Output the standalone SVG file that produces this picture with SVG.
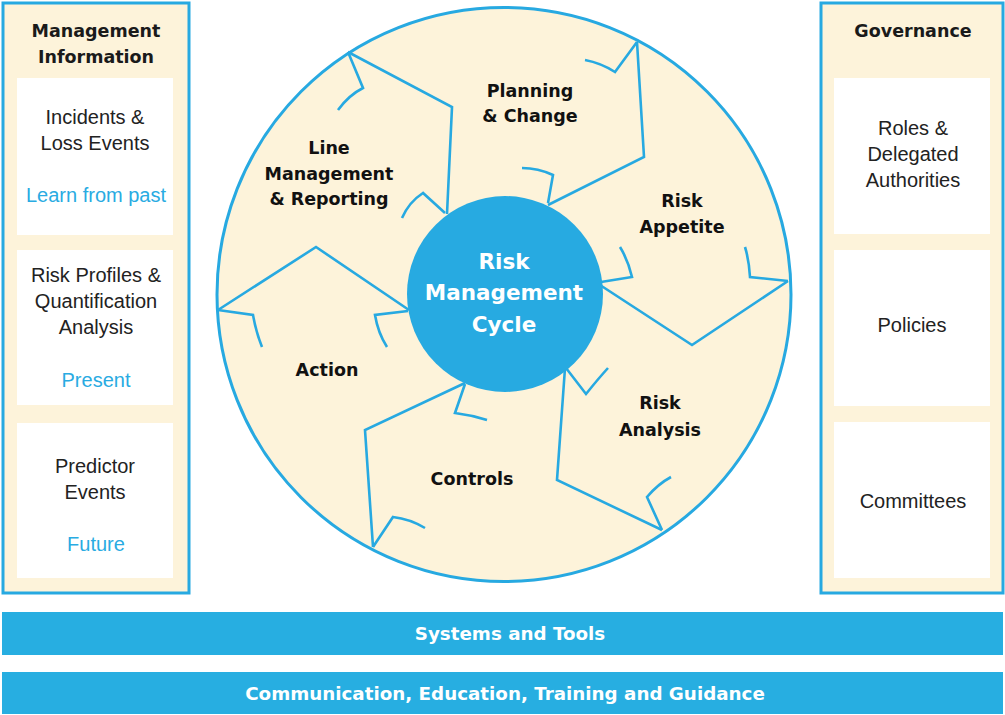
<svg xmlns="http://www.w3.org/2000/svg" width="1005" height="715" viewBox="0 0 1005 715">
<style>
.panel{fill:#fdf3da;stroke:#27a9e1;stroke-width:3}
.box{fill:#ffffff}
.hd{font-family:"DejaVu Sans",sans-serif;font-weight:bold;font-size:17.5px;fill:#1a1a1a;text-anchor:middle}
.tx{font-family:"Liberation Sans",Arial,sans-serif;font-size:20px;fill:#222;text-anchor:middle}
.bl{font-family:"Liberation Sans",Arial,sans-serif;font-size:20px;fill:#29abe2;text-anchor:middle}
.seg{font-family:"DejaVu Sans",sans-serif;font-weight:bold;font-size:17.5px;fill:#111;text-anchor:middle}
.ctr{font-family:"DejaVu Sans",sans-serif;font-weight:bold;font-size:21.5px;fill:#ffffff;text-anchor:middle}
.bar{fill:#27aee1}
.bt{font-family:"DejaVu Sans",sans-serif;font-weight:bold;font-size:18.3px;fill:#ffffff;text-anchor:middle}
.ln{fill:none;stroke:#27a9e1;stroke-width:2.6;stroke-linejoin:miter;stroke-linecap:butt}
</style>
<rect width="1005" height="715" fill="#ffffff"/>

<g id="management-information">
<rect class="panel" x="3" y="3" width="186" height="590"/>
<text class="hd" x="96" y="37">Management</text>
<text class="hd" x="96" y="63">Information</text>
<rect class="box" x="17" y="78" width="156" height="157"/>
<text class="tx" x="95" y="124">Incidents &amp;</text>
<text class="tx" x="95" y="150">Loss Events</text>
<text class="bl" x="96" y="202">Learn from past</text>
<rect class="box" x="17" y="250" width="156" height="155"/>
<text class="tx" x="96" y="282">Risk Profiles &amp;</text>
<text class="tx" x="96" y="308">Quantification</text>
<text class="tx" x="96" y="334">Analysis</text>
<text class="bl" x="96" y="387">Present</text>
<rect class="box" x="17" y="423" width="156" height="155"/>
<text class="tx" x="95" y="473">Predictor</text>
<text class="tx" x="95" y="499">Events</text>
<text class="bl" x="96" y="551">Future</text>
</g>

<g id="governance">
<rect class="panel" x="821" y="3" width="182" height="590"/>
<text class="hd" x="913" y="37">Governance</text>
<rect class="box" x="834" y="78" width="156" height="156"/>
<text class="tx" x="913" y="135">Roles &amp;</text>
<text class="tx" x="913" y="161">Delegated</text>
<text class="tx" x="913" y="187">Authorities</text>
<rect class="box" x="834" y="250" width="156" height="156"/>
<text class="tx" x="912" y="332">Policies</text>
<rect class="box" x="834" y="422" width="156" height="156"/>
<text class="tx" x="913" y="508">Committees</text>
</g>

<g id="cycle">
<circle cx="504" cy="294.5" r="287" fill="#fdf3da" stroke="#27a9e1" stroke-width="3"/>
</g>

<g id="connectors">
<path class="ln" d="M348,52 L452,107 L447,214"/>
<path class="ln" d="M637,42 L644,157 L548,205"/>
<path class="ln" d="M788,281 L692,345 L600,285"/>
<path class="ln" d="M565,368 L557,480 L662,530"/>
<path class="ln" d="M465,383 L365,430 L373,547"/>
<path class="ln" d="M218,310 L316,247 L409,310"/>
<path class="ln" d="M348,52 L363,88 Q349,95 338,110"/>
<path class="ln" d="M445,213 L423,193 Q409,202 402,218"/>
<path class="ln" d="M637,42 L615,72 Q601,63 585,60"/>
<path class="ln" d="M548,203 L553,175 Q538,168 522,168"/>
<path class="ln" d="M788,281 L750,277 Q749,260 745,247"/>
<path class="ln" d="M601,282 L632,277 Q628,260 620,247"/>
<path class="ln" d="M566,368 L586,394 Q598,379 608,368"/>
<path class="ln" d="M662,530 L647,497 Q658,484 671,477"/>
<path class="ln" d="M465,384 L455,413 Q471,415 487,420"/>
<path class="ln" d="M373,547 L393,517 Q410,519 425,528"/>
<path class="ln" d="M408,311 L375,315 Q378,333 387,347"/>
<path class="ln" d="M218,310 L253,315 Q256,332 262,347"/>
</g>

<g id="center">
<circle cx="505" cy="294" r="98" fill="#27aae1"/>
<text class="ctr" x="504" y="269">Risk</text>
<text class="ctr" x="504" y="300">Management</text>
<text class="ctr" x="504" y="332">Cycle</text>
</g>

<g id="planning-change">
<text class="seg" x="530" y="97">Planning</text>
<text class="seg" x="530" y="122">&amp; Change</text>
</g>
<g id="line-management">
<text class="seg" x="329" y="154">Line</text>
<text class="seg" x="329" y="180">Management</text>
<text class="seg" x="329" y="205">&amp; Reporting</text>
</g>
<g id="risk-appetite">
<text class="seg" x="682" y="207">Risk</text>
<text class="seg" x="682" y="233">Appetite</text>
</g>
<g id="action">
<text class="seg" x="327" y="376">Action</text>
</g>
<g id="controls">
<text class="seg" x="472" y="485">Controls</text>
</g>
<g id="risk-analysis">
<text class="seg" x="660" y="409">Risk</text>
<text class="seg" x="660" y="436">Analysis</text>
</g>

<g id="systems-tools">
<rect class="bar" x="2" y="612" width="1001" height="43"/>
<text class="bt" x="510" y="640">Systems and Tools</text>
</g>
<g id="communication">
<rect class="bar" x="2" y="672" width="1001" height="42"/>
<text class="bt" x="505" y="700">Communication, Education, Training and Guidance</text>
</g>
</svg>
